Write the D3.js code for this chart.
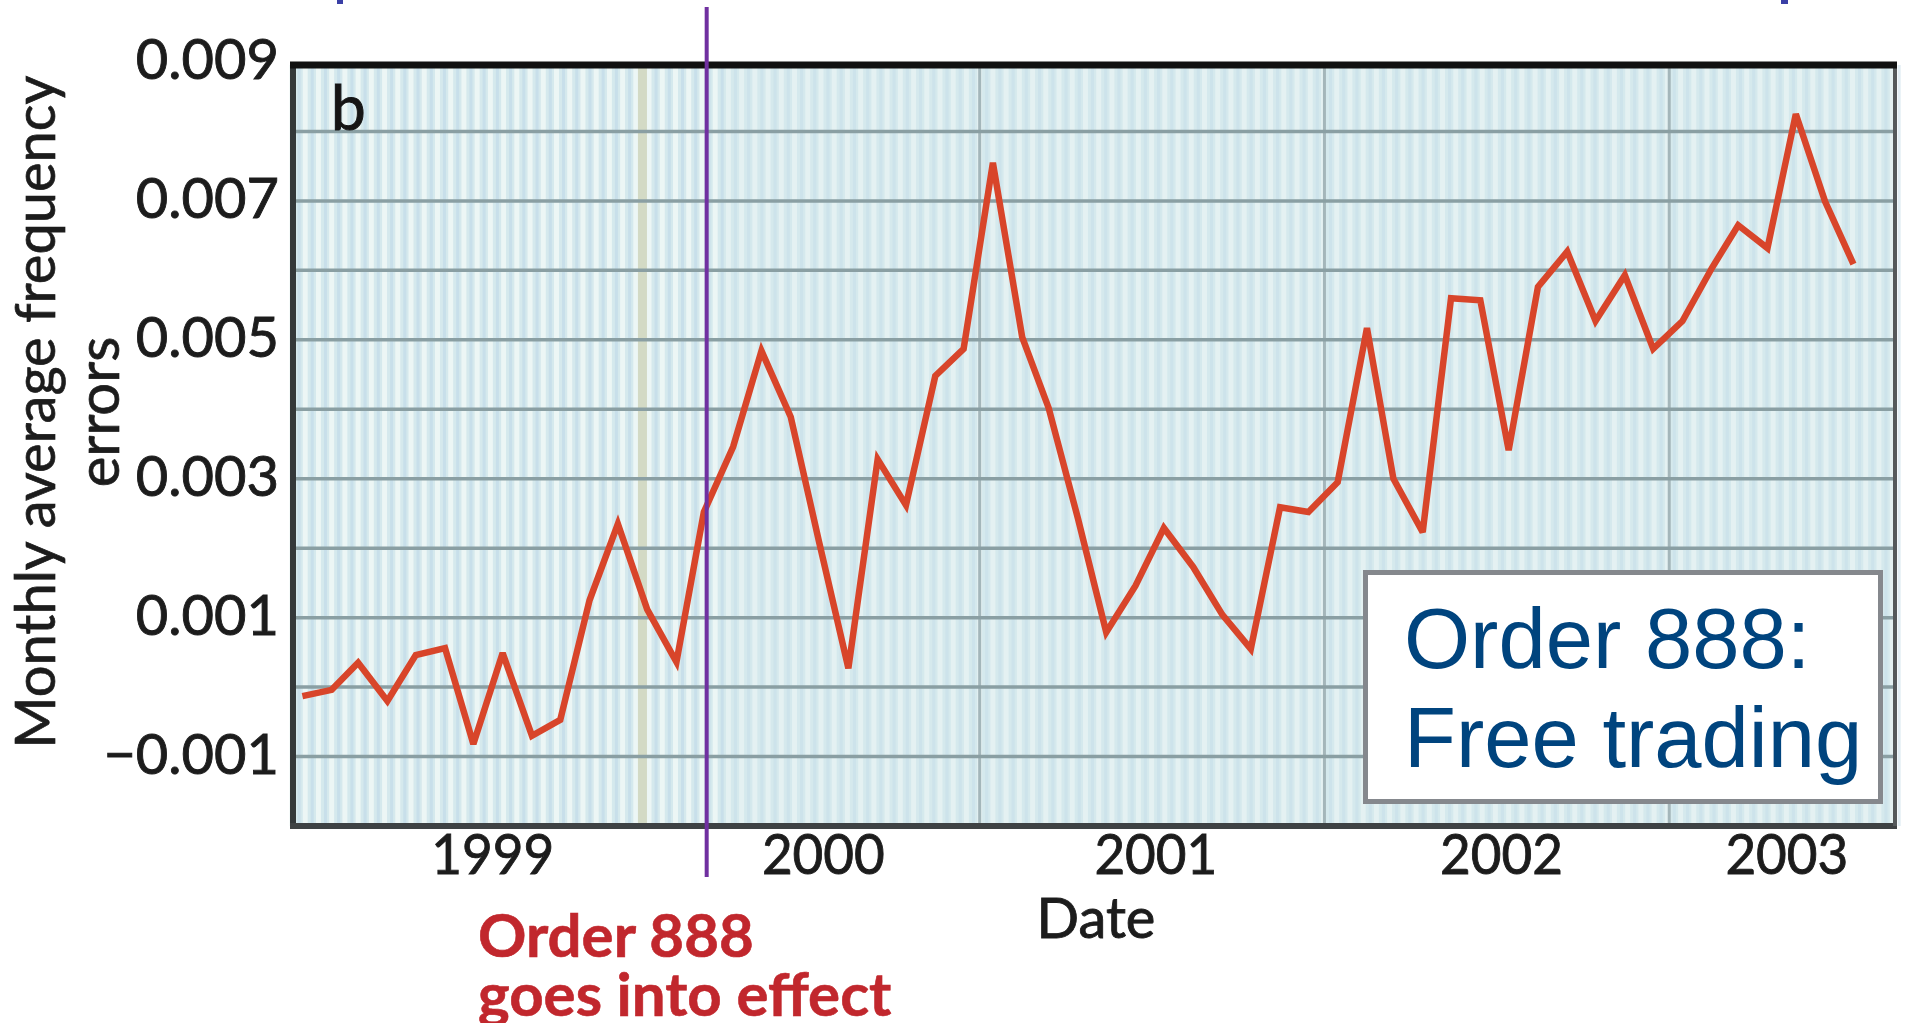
<!DOCTYPE html>
<html>
<head>
<meta charset="utf-8">
<script src="https://cdn.jsdelivr.net/npm/d3@7"></script>
<style>
  html, body { margin: 0; padding: 0; background: #ffffff; }
  svg { display: block; }
</style>
</head>
<body>
<svg id="chart" width="1920" height="1023"></svg>
<script>
// ---------------- DATA ----------------
const months = [
  "1999-01","1999-02","1999-03","1999-04","1999-05","1999-06","1999-07","1999-08","1999-09","1999-10","1999-11","1999-12",
  "2000-01","2000-02","2000-03","2000-04","2000-05","2000-06","2000-07","2000-08","2000-09","2000-10","2000-11","2000-12",
  "2001-01","2001-02","2001-03","2001-04","2001-05","2001-06","2001-07","2001-08","2001-09","2001-10","2001-11","2001-12",
  "2002-01","2002-02","2002-03","2002-04","2002-05","2002-06","2002-07","2002-08","2002-09","2002-10","2002-11","2002-12",
  "2003-01","2003-02","2003-03","2003-04","2003-05","2003-06","2003-07"
];
const frequencyErrors = [
  -0.00013, -0.00004, 0.00035, -0.00020, 0.00046, 0.00056, -0.00082, 0.00049, -0.00070, -0.00047, 0.00125, 0.00235,
   0.00112,  0.00036, 0.00252,  0.00346, 0.00484, 0.00389,  0.00209, 0.00027,  0.00328,  0.00262, 0.00448, 0.00487,
   0.00755,  0.00504, 0.00402,  0.00243, 0.00079, 0.00146,  0.00229, 0.00173,  0.00104,  0.00055, 0.00259, 0.00252,
   0.00295,  0.00517, 0.00300,  0.00223, 0.00560, 0.00557,  0.00341, 0.00576,  0.00627,  0.00527, 0.00593, 0.00487,
   0.00527,  0.00603, 0.00665,  0.00632, 0.00825, 0.00699,  0.00609
];
const yTickValues = [0.009, 0.007, 0.005, 0.003, 0.001, -0.001];
const xTickLabels = ["1999", "2000", "2001", "2002", "2003"];
const xTickDates  = ["1999-08-04", "2000-07-19", "2001-07-06", "2002-07-07", "2003-05-05"];
const yearBoundaries = ["2000-01-10", "2001-01-01", "2002-01-01", "2003-01-01"];
const eventDate = "2000-03-18";
const eventLabel = ["Order 888", "goes into effect"];
const boxLabel = ["Order 888:", "Free trading"];
const yTitle = ["Monthly average frequency", "errors"];
const xTitle = "Date";
const panelLetter = "b";

// ---------------- SETUP ----------------
const parseMonth = d3.timeParse("%Y-%m");
const parseDay = d3.timeParse("%Y-%m-%d");
const data = months.map((m, i) => ({ date: d3.timeDay.offset(parseMonth(m), 14), value: frequencyErrors[i] }));

const svg = d3.select("#chart");
const L = 292, R = 1895, T = 62, B = 826;
const TXT = "#1c1c1c";

const x = d3.scaleTime()
  .domain([parseDay("1999-01-04"), parseDay("2003-08-28")])
  .range([L, R]);
const y = d3.scaleLinear()
  .domain([-0.002, 0.009])
  .range([B, T]);

const plotTop = 65;

// Plot background
svg.append("rect")
  .attr("x", L).attr("y", plotTop)
  .attr("width", R - L).attr("height", B - plotTop)
  .attr("fill", "#d5e9ed");

// Vertical light stripes (background texture)
const stripeDates = d3.timeDay.range(parseDay("1999-01-04"), parseDay("2003-08-28"), 14);
const stripes = svg.append("g");
stripes.selectAll("line.a")
  .data(stripeDates)
  .join("line").attr("class", "a")
  .attr("x1", d => x(d)).attr("x2", d => x(d))
  .attr("y1", plotTop).attr("y2", B)
  .attr("stroke", "#eef7f6")
  .attr("stroke-width", 5)
  .attr("opacity", d => x(d) < 720 ? 0.95 : 0.6);
stripes.selectAll("line.b")
  .data(stripeDates)
  .join("line").attr("class", "b")
  .attr("x1", d => x(d) + 7).attr("x2", d => x(d) + 7)
  .attr("y1", plotTop).attr("y2", B)
  .attr("stroke", "#c6deea")
  .attr("stroke-width", 3)
  .attr("opacity", d => x(d) < 720 ? 0.85 : 0.5);

// Year boundary lines
svg.append("g")
  .selectAll("line")
  .data(yearBoundaries.map(parseDay))
  .join("line")
  .attr("x1", d => x(d)).attr("x2", d => x(d))
  .attr("y1", plotTop).attr("y2", B)
  .attr("stroke", (d, i) => i === 0 ? "#d3dac5" : "#a4b6ba")
  .attr("stroke-width", (d, i) => i === 0 ? 9 : 3);

// Horizontal gridlines every 0.001
const gridVals = y.ticks(11).filter(v => v > -0.0015 && v < 0.0085);
svg.append("g")
  .selectAll("line")
  .data(gridVals)
  .join("line")
  .attr("x1", L).attr("x2", R)
  .attr("y1", d => y(d)).attr("y2", d => y(d))
  .attr("stroke", "#8a9fa3")
  .attr("stroke-width", 3.5);

// Data line
const line = d3.line().x(d => x(d.date)).y(d => y(d.value));
svg.append("path")
  .datum(data)
  .attr("fill", "none")
  .attr("stroke", "#d8452a")
  .attr("stroke-width", 6.5)
  .attr("stroke-linejoin", "miter")
  .attr("stroke-miterlimit", 3)
  .attr("d", line);

// Frame
svg.append("line").attr("x1", 293).attr("x2", 293).attr("y1", plotTop - 3).attr("y2", B + 3)
  .attr("stroke", "#33383a").attr("stroke-width", 6);
svg.append("line").attr("x1", 290).attr("x2", R + 2).attr("y1", B).attr("y2", B)
  .attr("stroke", "#3e4244").attr("stroke-width", 6);
svg.append("line").attr("x1", R).attr("x2", R).attr("y1", plotTop).attr("y2", B)
  .attr("stroke", "#55595b").attr("stroke-width", 4);
svg.append("line").attr("x1", 290).attr("x2", R + 2).attr("y1", plotTop).attr("y2", plotTop)
  .attr("stroke", "#111111").attr("stroke-width", 7);

// Y axis
const yAxis = d3.axisLeft(y)
  .tickValues(yTickValues)
  .tickFormat(d3.format(".3f"))
  .tickSize(0)
  .tickPadding(13);
const gy = svg.append("g").attr("transform", `translate(${L},0)`).call(yAxis);
gy.select(".domain").remove();
gy.selectAll("text")
  .attr("font-family", "Lato, sans-serif")
  .attr("font-size", 56)
  .attr("fill", TXT)
  .attr("stroke", TXT)
  .attr("stroke-width", 0.9)
  .attr("dy", "0.30em");

// X axis
const xAxis = d3.axisBottom(x)
  .tickValues(xTickDates.map(parseDay))
  .tickFormat((d, i) => xTickLabels[i])
  .tickSize(0)
  .tickPadding(8);
const gx = svg.append("g").attr("transform", `translate(0,${B})`).call(xAxis);
gx.select(".domain").remove();
gx.selectAll("text")
  .attr("font-family", "Lato, sans-serif")
  .attr("font-size", 57)
  .attr("fill", TXT)
  .attr("stroke", TXT)
  .attr("stroke-width", 0.9)
  .attr("transform", "scale(0.93,1)");

// X axis title
svg.append("text")
  .attr("x", 1096).attr("y", 938)
  .attr("text-anchor", "middle")
  .attr("font-family", "Lato, sans-serif")
  .attr("font-size", 56)
  .attr("fill", TXT)
  .attr("stroke", TXT)
  .attr("stroke-width", 0.9)
  .text(xTitle);

// Y axis title (two lines)
svg.append("text")
  .attr("transform", "translate(55,412) rotate(-90)")
  .attr("text-anchor", "middle")
  .attr("font-family", "Lato, sans-serif")
  .attr("font-size", 56)
  .attr("fill", TXT)
  .attr("stroke", TXT)
  .attr("stroke-width", 0.7)
  .text(yTitle[0]);
svg.append("text")
  .attr("transform", "translate(119,412) rotate(-90)")
  .attr("text-anchor", "middle")
  .attr("font-family", "Lato, sans-serif")
  .attr("font-size", 58)
  .attr("fill", TXT)
  .attr("stroke", TXT)
  .attr("stroke-width", 0.7)
  .text(yTitle[1]);

// Panel letter
svg.append("text")
  .attr("x", 331).attr("y", 130)
  .attr("font-family", "Lato, sans-serif")
  .attr("font-size", 62)
  .attr("fill", "#151515")
  .attr("stroke", "#151515")
  .attr("stroke-width", 1)
  .text(panelLetter);

// Event line
const ex = x(parseDay(eventDate));
svg.append("line")
  .attr("x1", ex).attr("x2", ex)
  .attr("y1", 7).attr("y2", 877)
  .attr("stroke", "#7030a0").attr("stroke-width", 4);

// Event label
const ev = svg.append("text")
  .attr("font-family", "Lato, sans-serif")
  .attr("font-weight", 700)
  .attr("font-size", 60)
  .attr("fill", "#c1272d")
  .attr("stroke", "#c1272d")
  .attr("stroke-width", 0.6);
ev.selectAll("tspan")
  .data(eventLabel)
  .join("tspan")
  .attr("x", 478)
  .attr("y", (d, i) => i === 0 ? 957 : 1016)
  .text(d => d);

// Box annotation
svg.append("rect")
  .attr("x", 1365.5).attr("y", 572.5)
  .attr("width", 515).attr("height", 229)
  .attr("fill", "#ffffff")
  .attr("stroke", "#85888d")
  .attr("stroke-width", 5);
const bx = svg.append("text")
  .attr("font-family", "'Liberation Sans', Arial, sans-serif")
  .attr("font-size", 85)
  .attr("fill", "#00447e");
bx.selectAll("tspan")
  .data(boxLabel)
  .join("tspan")
  .attr("x", 1404)
  .attr("y", (d, i) => i === 0 ? 668 : 767)
  .text(d => d);

// Small blue marks at top edge (cropped slide elements)
svg.append("rect").attr("x", 337).attr("y", 0).attr("width", 6).attr("height", 4).attr("fill", "#3a3fa6");
svg.append("rect").attr("x", 1781).attr("y", 0).attr("width", 7).attr("height", 4).attr("fill", "#3a3fa6");
</script>
</body>
</html>
